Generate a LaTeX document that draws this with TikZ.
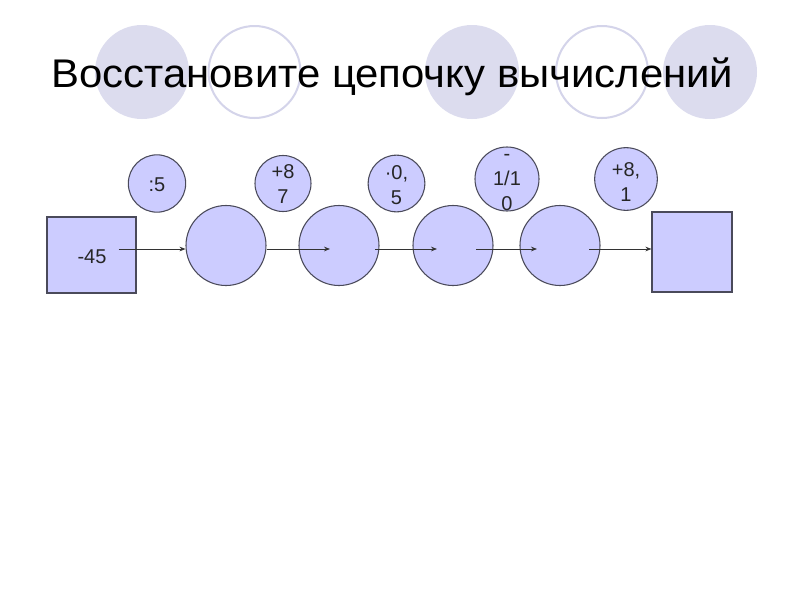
\documentclass[tikz,border=0pt]{standalone}
\usepackage{fontspec}
\setmainfont{Liberation Sans}
\usetikzlibrary{arrows.meta}
\definecolor{deco}{HTML}{DCDCEE}
\definecolor{decoline}{HTML}{D4D4EA}
\definecolor{boxfill}{HTML}{CCCCFF}
\definecolor{boxline}{HTML}{4A4A5A}
\tikzset{
  bigc/.style={circle, draw=boxline, fill=boxfill, line width=0.8pt, minimum size=60pt, inner sep=0pt},
  opc/.style={circle, draw=boxline, fill=boxfill, line width=0.8pt, inner sep=0pt},
  sqbox/.style={rectangle, draw=boxline, fill=boxfill, line width=0.9pt, inner sep=0pt},
  optext/.style={align=center, inner sep=0pt, font=\fontsize{15pt}{18.75pt}\selectfont, text=black!85},
  flow/.style={draw=black!80, line width=0.6pt, -{Stealth[length=4.5pt,width=3.5pt]}},
}
\begin{document}
\begin{tikzpicture}[x=0.75pt,y=-0.75pt]
\useasboundingbox (0,0) rectangle (800,600);
\fill[white] (0,0) rectangle (800,600);
% decorative circles
\node[circle, fill=deco, minimum size=70.5pt, inner sep=0pt] (d1) at (142,72) {};
\node[circle, draw=decoline, line width=1.5pt, minimum size=69pt, inner sep=0pt] (d2) at (254.5,72) {};
\node[circle, fill=deco, minimum size=70.5pt, inner sep=0pt] (d3) at (472,72) {};
\node[circle, draw=decoline, line width=1.5pt, minimum size=69pt, inner sep=0pt] (d4) at (602,72) {};
\node[circle, fill=deco, minimum size=70.5pt, inner sep=0pt] (d5) at (710,72) {};
% title
\node[anchor=base west, inner sep=0pt, font=\fontsize{30pt}{36pt}\selectfont] (title) at (51,87) {\scalebox{1.047}[1]{Восстановите цепочку вычислений}};
% start and end squares
\node[sqbox, minimum width=66.75pt, minimum height=57pt] (s0) at (91.5,255) {};
\node[inner sep=0pt, font=\fontsize{15pt}{17pt}\selectfont, text=black!85] (s0t) at (92,257) {-45};
\node[sqbox, minimum width=60pt, minimum height=60pt] (s6) at (692,252) {};
% big circles
\node[bigc] (c1) at (226,245.5) {};
\node[bigc] (c2) at (339,245.5) {};
\node[bigc] (c3) at (453,245.5) {};
\node[bigc] (c4) at (560,245.5) {};
% operation circles
\node[opc, minimum size=43pt] (o1) at (157,183.5) {};
\node[optext] (t1) at (157,185) {:5};
\node[opc, minimum size=42pt] (o2) at (283,183.5) {};
\node[optext] (t2) at (283,184.5) {+8\\7};
\node[opc, minimum size=42.5pt] (o3) at (396.5,183.5) {};
\node[optext] (t3) at (396.5,185) {·0,\\5};
\node[opc, minimum size=48pt] (o4) at (507,179) {};
\node[optext] (t4) at (507,183) {-\\1/1\\0};
\node[opc, minimum size=47pt] (o5) at (626,179) {};
\node[optext] (t5) at (626,182.5) {+8,\\1};
% arrow endpoints
\coordinate (a1s) at ([xshift=-13.5pt]s0.east |- 0,249);
\coordinate (a1e) at (c1.west |- 0,249);
\coordinate (a2s) at (c1.east |- 0,249);
\coordinate (a2e) at ([xshift=-6.75pt]c2.center |- 0,249);
\coordinate (a3s) at ([xshift=27pt]c2.center |- 0,249);
\coordinate (a3e) at ([xshift=-12pt]c3.center |- 0,249);
\coordinate (a4s) at ([xshift=17.25pt]c3.center |- 0,249);
\coordinate (a4e) at ([xshift=-17.25pt]c4.center |- 0,249);
\coordinate (a5s) at ([xshift=21.75pt]c4.center |- 0,249);
\coordinate (a5e) at (s6.west |- 0,249);
\draw[flow] (a1s) -- (a1e);
\draw[flow] (a2s) -- (a2e);
\draw[flow] (a3s) -- (a3e);
\draw[flow] (a4s) -- (a4e);
\draw[flow] (a5s) -- (a5e);
\end{tikzpicture}
\end{document}
